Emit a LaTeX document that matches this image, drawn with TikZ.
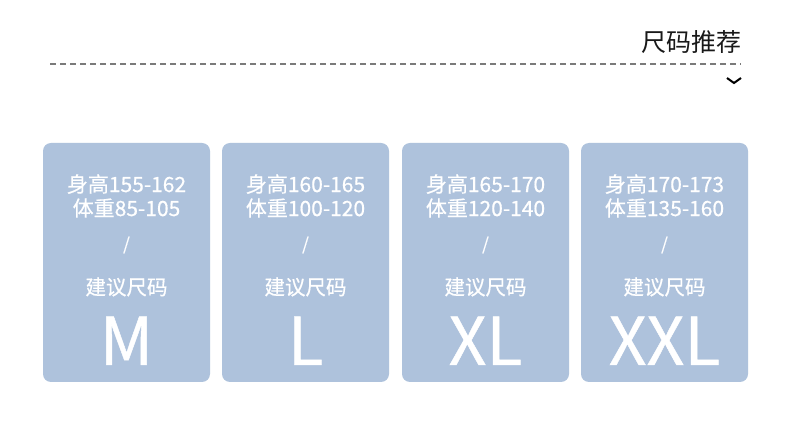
\documentclass[tikz,border=0pt]{standalone}
\usepackage{fontspec}
\setmainfont{Noto Sans CJK SC}
\newfontfamily\cjk{Noto Sans CJK SC}
\newfontfamily\cjkm[FakeBold=0.7]{Noto Sans CJK SC}
\definecolor{cardblue}{HTML}{AEC2DC}
\definecolor{dashgray}{HTML}{7A7A7A}
\begin{document}
\begin{tikzpicture}[x=1pt,y=-1pt,
  card/.style={fill=cardblue,rounded corners=8pt,draw=none},
  info/.style={text=white,font=\cjkm\fontsize{21}{24}\selectfont,align=center,inner sep=0pt},
  slash/.style={text=white,font=\cjkm\fontsize{17}{18}\selectfont,inner sep=0pt},
  sugg/.style={text=white,font=\cjkm\fontsize{20.5}{22}\selectfont,inner sep=0pt},
  big/.style={text=white,font=\cjkm\fontsize{66}{70}\selectfont,inner sep=0pt,anchor=base}]
\useasboundingbox[fill=white] (0,0) rectangle (790,443);
\node[anchor=east,inner sep=0pt,font=\cjk\fontsize{25}{27}\selectfont,text=black!90] (title) at (742,42) {尺码推荐};
\coordinate (dl) at (50,64);
\coordinate (dr) at (741,64);
\draw[dashgray,line width=1.2pt,dash pattern=on 6pt off 4pt] (dl) -- (dr);
\coordinate (c1) at (727,78);
\coordinate (c2) at (734,83);
\coordinate (c3) at (741,78);
\draw[black,line width=2pt] (c1) -- (c2) -- (c3);
\foreach \i/\xa/\h/\w/\s in {1/43/155-162/85-105/M,2/222/160-165/100-120/L,3/402/165-170/120-140/XL,4/581/170-173/135-160/XXL}{
  \path[card] (\xa,143) rectangle ++(167,239);
  \node[info] (a\i) at (\xa+83.5,196) {身高\h\\体重\w};
  \node[slash] (s\i) at (\xa+83.5,245) {/};
  \node[sugg] (g\i) at (\xa+83.5,287) {建议尺码};
  \node[big] (b\i) at (\xa+83.5,365) {\s};
}
\end{tikzpicture}
\end{document}
